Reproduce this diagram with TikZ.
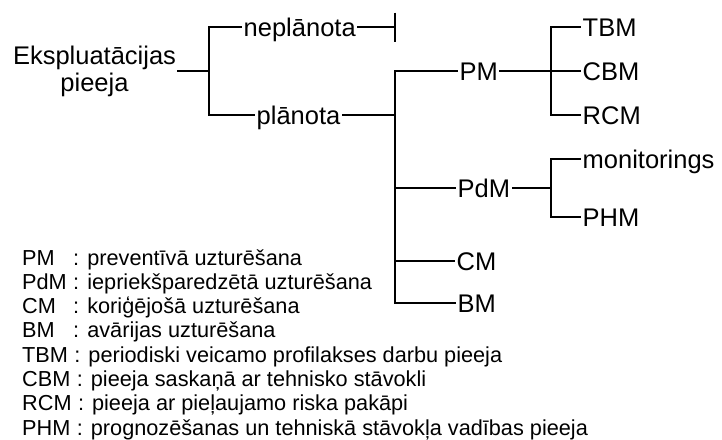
\documentclass[tikz,border=0pt]{standalone}
\usepackage{fontspec}
\setmainfont{Liberation Sans}
\begin{document}
\begin{tikzpicture}[x=1pt,y=-1pt,
  wire/.style={line width=2.4pt, line join=miter, line cap=rect},
  lbl/.style={font=\fontsize{25.5}{30}\selectfont, inner xsep=2.5pt, inner ysep=0pt,
              text height=18.26pt, text depth=0pt, anchor=west},
  leg/.style={font=\fontsize{21.7}{24}\selectfont, inner sep=0pt, anchor=base west}]
\fill[white] (0,0) rectangle (722,439);
\useasboundingbox (0,0) rectangle (722,439);

% root (anchor base = baseline of the last line)
\node[font=\fontsize{25.5}{27}\selectfont, align=center, inner sep=1.5pt, anchor=base]
  (root) at (94.5,91) {Ekspluatācijas\\pieeja};

% junctions
\coordinate (j1) at (209,71);
\coordinate (tick) at (395,27);
\coordinate (j2) at (395,115);
\coordinate (j3) at (551,71);
\coordinate (j4) at (551,188);

% first level
\node[lbl] (nepl) at (241,27) {neplānota};
\node[lbl] (plan) at (254,115) {plānota};

% second level
\node[lbl] (PM)  at (457,71)  {PM};
\node[lbl] (PdM) at (455,188) {PdM};
\node[lbl] (CM)  at (454,261) {CM};
\node[lbl] (BM)  at (455,303) {BM};

% third level
\node[lbl] (TBM) at (580,27)  {TBM};
\node[lbl] (CBM) at (580,71)  {CBM};
\node[lbl] (RCM) at (580,115) {RCM};
\node[lbl] (mon) at (580,159) {monitorings};
\node[lbl] (PHM) at (580,217) {PHM};

% connectors
\draw[wire] (root.east |- j1) -- (j1);
\draw[wire] (nepl.west) -| (j1) |- (plan.west);
\draw[wire] (nepl.east) -- (tick);
\draw[wire, line cap=butt] ([yshift=14.5pt]tick) -- ([yshift=-14.5pt]tick);
\draw[wire] (plan.east) -- (j2);
\draw[wire] (PM.west) -| (j2) |- (BM.west);
\draw[wire] (PdM.west) -- (PdM.west -| j2);
\draw[wire] (CM.west) -- (CM.west -| j2);
\draw[wire] (PM.east) -- (CBM.west);
\draw[wire] (TBM.west) -| (j3) |- (RCM.west);
\draw[wire] (PdM.east) -- (j4);
\draw[wire] (mon.west) -| (j4) |- (PHM.west);

% legend
\node[leg] (aPdM) at (22,289.3) {PdM};
\node[leg] (dPdM) at (aPdM.base east) {\ : iepriekšparedzētā uzturēšana};
\node[leg] (aPM)  at (22,265.0) {PM};
\node[leg] (dPM)  at (aPM.base east -| dPdM.west) {\ : preventīvā uzturēšana};
\node[leg] (aCM)  at (22,313.6) {CM};
\node[leg] (dCM)  at (aCM.base east -| dPdM.west) {\ : koriģējošā uzturēšana};
\node[leg] (aBM)  at (22,337.9) {BM};
\node[leg] (dBM)  at (aBM.base east -| dPdM.west) {\ : avārijas uzturēšana};
\node[leg] (aTBM) at (22,362.2) {TBM};
\node[leg] (dTBM) at (aTBM.base east) {\ : periodiski veicamo profilakses darbu pieeja};
\node[leg] (aCBM) at (22,386.5) {CBM};
\node[leg] (dCBM) at (aCBM.base east) {\ : pieeja saskaņā ar tehnisko stāvokli};
\node[leg] (aRCM) at (22,410.8) {RCM};
\node[leg] (dRCM) at (aRCM.base east) {\ : pieeja ar pieļaujamo riska pakāpi};
\node[leg] (aPHM) at (22,435.1) {PHM};
\node[leg] (dPHM) at (aPHM.base east) {\ : prognozēšanas un tehniskā stāvokļa vadības pieeja};
\end{tikzpicture}
\end{document}
